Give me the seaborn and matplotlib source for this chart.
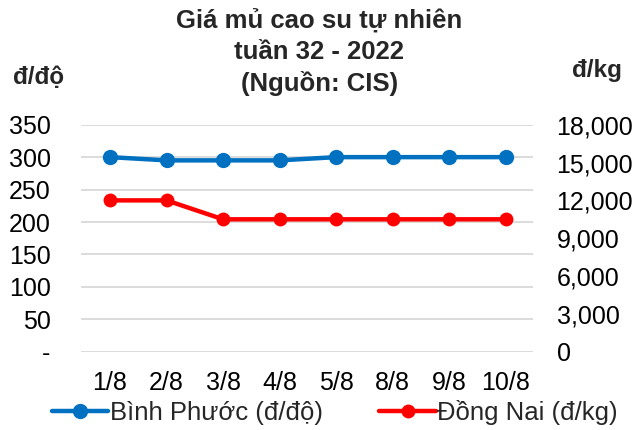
import matplotlib
matplotlib.use('Agg')
import matplotlib.pyplot as plt
import matplotlib.ticker as mticker
import seaborn as sns
import pandas as pd

dates = ["1/8", "2/8", "3/8", "4/8", "5/8", "8/8", "9/8", "10/8"]
binh_phuoc = [300, 295, 295, 295, 300, 300, 300, 300]
dong_nai = [12000, 12000, 10500, 10500, 10500, 10500, 10500, 10500]

sns.set_theme(style="white")
plt.rcParams['font.family'] = ['Liberation Sans', 'DejaVu Sans']

df = pd.DataFrame({"date": dates, "bp": binh_phuoc, "dn": dong_nai})

fig = plt.figure(figsize=(6.39, 4.3), dpi=100)
ax = fig.add_axes([0.127, 0.182, 0.707, 0.528])
ax2 = ax.twinx()

blue = "#0070C0"
red = "#FF0000"

sns.lineplot(x="date", y="bp", data=df, ax=ax, color=blue, linewidth=3.2,
             marker="o", markersize=11, markeredgewidth=0, sort=False,
             label="Bình Phước (đ/độ)", legend=False)
sns.lineplot(x="date", y="dn", data=df, ax=ax2, color=red, linewidth=3.2,
             marker="o", markersize=10, markeredgewidth=0, sort=False,
             label="Đồng Nai (đ/kg)", legend=False)

ax.set_ylim(0, 350)
ax.set_yticks(range(0, 351, 50))
ax.yaxis.set_major_formatter(mticker.FuncFormatter(lambda v, p: "-" if v == 0 else f"{int(v)}"))
ax2.set_ylim(0, 18000)
ax2.set_yticks(range(0, 18001, 3000))
ax2.yaxis.set_major_formatter(mticker.FuncFormatter(lambda v, p: f"{int(v):,}"))
ax.set_xlim(-0.51, 7.48)

ax.grid(axis="y", color="#D9D9D9", linewidth=1.3)
ax.set_axisbelow(True)
for a in (ax, ax2):
    for s in a.spines.values():
        s.set_visible(False)
    a.set_xlabel(None)
    a.set_ylabel(None)
    a.tick_params(length=0, labelsize=18, colors="black")
ax.tick_params(axis="y", pad=22)
ax2.tick_params(axis="y", pad=17)
ax.tick_params(axis="x", pad=14)

fig.text(0.5, 0.978, "Giá mủ cao su tự nhiên\ntuần 32 - 2022\n(Nguồn: CIS)",
         ha="center", va="top", fontsize=18.5, fontweight="bold", linespacing=1.33)
fig.text(0.061, 0.82, "đ/độ", ha="center", va="center", fontsize=17.5, fontweight="bold")
fig.text(0.934, 0.836, "đ/kg", ha="center", va="center", fontsize=17.5, fontweight="bold")

h1, l1 = ax.get_legend_handles_labels()
h2, l2 = ax2.get_legend_handles_labels()
fig.legend(h1 + h2, l1 + l2, loc="center", bbox_to_anchor=(0.524, 0.04), ncol=2,
           frameon=False, fontsize=18.5, handlelength=2.2, columnspacing=2.2,
           handletextpad=0.05, borderaxespad=0)

plt.savefig("out.png", dpi=100, facecolor="white")
plt.close()
